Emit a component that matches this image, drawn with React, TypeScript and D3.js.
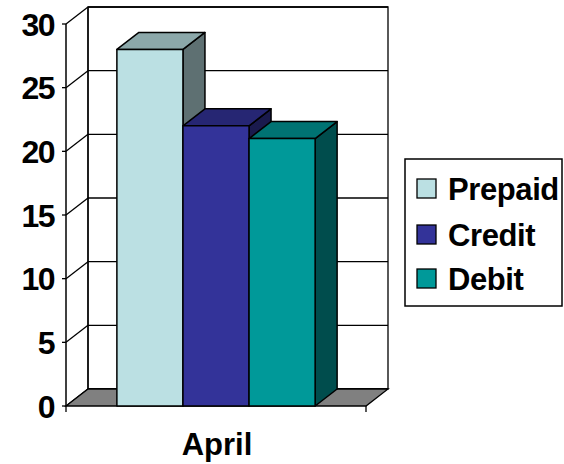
import React from "react";
import * as d3 from "d3";

const categories = ["April"];
const seriesNames = ["Prepaid", "Credit", "Debit"];
const seriesValues = [28, 22, 21];
const seriesColors = ["#BBE0E3", "#333399", "#009999"];
const yTicks = [0, 5, 10, 15, 20, 25, 30];

const W = 564;
const H = 464;
const left = 66;
const right = 366;
const bottom = 406;
const top = 24;
const DX = 22;
const DY = -17;
const FONT = "'Liberation Sans', Arial, Helvetica, sans-serif";

export default function App() {
  const y = d3.scaleLinear().domain([0, 30]).range([bottom, top]);
  const x0 = d3.scaleBand().domain(categories).range([left, right]).padding(0);
  const x1 = d3
    .scaleBand()
    .domain(seriesNames)
    .range([0, x0.bandwidth()])
    .paddingInner(0)
    .paddingOuter(0.77);

  const shade = (c: string, k: number) => {
    const col = d3.rgb(c);
    return d3.rgb(col.r * k, col.g * k, col.b * k).formatHex();
  };

  const poly = (pts: [number, number][]) =>
    pts.map((p) => p.join(",")).join(" ");

  const y0 = y(0);
  const yMax = y(30);

  return (
    <svg
      width={W}
      height={H}
      style={{ position: "absolute", left: 0, top: 0, background: "#fff" }}
    >
      {/* back wall */}
      <polygon
        points={poly([
          [left + DX, yMax + DY],
          [right + DX, yMax + DY],
          [right + DX, y0 + DY],
          [left + DX, y0 + DY],
        ])}
        fill="#fff"
        stroke="#000"
        strokeWidth={1.3}
      />
      {/* grid on back wall and side wall */}
      {yTicks.map((t) => (
        <g key={t}>
          <line
            x1={left + DX}
            x2={right + DX}
            y1={y(t) + DY}
            y2={y(t) + DY}
            stroke="#000"
            strokeWidth={1.3}
          />
          <line
            x1={left}
            x2={left + DX}
            y1={y(t)}
            y2={y(t) + DY}
            stroke="#000"
            strokeWidth={1.3}
          />
          <line
            x1={left - 4}
            x2={left}
            y1={y(t)}
            y2={y(t)}
            stroke="#000"
            strokeWidth={1.3}
          />
          <text
            x={54}
            y={y(t) + 11.5}
            textAnchor="end"
            fontFamily={FONT}
            fontWeight="bold"
            fontSize={32}
            letterSpacing={-1.5}
            fill="#000"
          >
            {t}
          </text>
        </g>
      ))}
      {/* side wall vertical back edge */}
      <line
        x1={left + DX}
        x2={left + DX}
        y1={yMax + DY}
        y2={y0 + DY}
        stroke="#000"
        strokeWidth={1.3}
      />
      {/* floor */}
      <polygon
        points={poly([
          [left, y0],
          [right, y0],
          [right + DX, y0 + DY],
          [left + DX, y0 + DY],
        ])}
        fill="#808080"
        stroke="#000"
        strokeWidth={1.3}
      />
      {/* front y axis */}
      <line x1={left} x2={left} y1={yMax} y2={y0} stroke="#000" strokeWidth={1.5} />
      {/* category tick marks */}
      <line x1={left} x2={left} y1={y0} y2={y0 + 6} stroke="#000" strokeWidth={1.3} />
      <line x1={right} x2={right} y1={y0} y2={y0 + 6} stroke="#000" strokeWidth={1.3} />
      {/* bars */}
      {categories.map((cat) => (
        <g key={cat}>
          {seriesNames.map((s, i) => {
            const bx = (x0(cat) as number) + (x1(s) as number);
            const bw = x1.bandwidth();
            const by = y(seriesValues[i]);
            const c = seriesColors[i];
            return (
              <g key={s} stroke="#000" strokeWidth={1.5} strokeLinejoin="round">
                <polygon
                  points={poly([
                    [bx + bw, by],
                    [bx + bw + DX, by + DY],
                    [bx + bw + DX, y0 + DY],
                    [bx + bw, y0],
                  ])}
                  fill={shade(c, 0.5)}
                />
                <polygon
                  points={poly([
                    [bx, by],
                    [bx + DX, by + DY],
                    [bx + bw + DX, by + DY],
                    [bx + bw, by],
                  ])}
                  fill={shade(c, 0.75)}
                />
                <rect x={bx} y={by} width={bw} height={y0 - by} fill={c} />
              </g>
            );
          })}
          <text
            x={(x0(cat) as number) + x0.bandwidth() / 2 + 1}
            y={455}
            textAnchor="middle"
            fontFamily={FONT}
            fontWeight="bold"
            fontSize={31}
            fill="#000"
          >
            {cat}
          </text>
        </g>
      ))}
      {/* legend */}
      <rect x={405} y={159} width={157} height={147} fill="#fff" stroke="#000" strokeWidth={1.5} />
      {seriesNames.map((s, i) => {
        const ly = [200, 246, 290][i];
        return (
          <g key={s}>
            <rect
              x={417}
              y={ly - 21}
              width={19}
              height={19}
              fill={seriesColors[i]}
              stroke="#000"
              strokeWidth={1.3}
            />
            <text
              x={448}
              y={ly}
              fontFamily={FONT}
              fontWeight="bold"
              fontSize={31}
              letterSpacing={-0.4}
              fill="#000"
            >
              {s}
            </text>
          </g>
        );
      })}
    </svg>
  );
}
